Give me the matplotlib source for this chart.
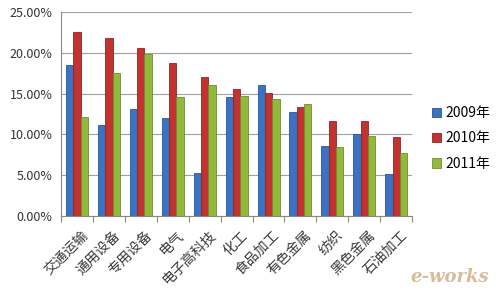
import matplotlib.pyplot as plt
import numpy as np

plt.rcParams['font.family'] = ['Noto Sans CJK SC', 'DejaVu Sans']

categories = ["交通运输", "通用设备", "专用设备", "电气", "电子高科技", "化工",
              "食品加工", "有色金属", "纺织", "黑色金属", "石油加工"]
v2009 = [18.5, 11.1, 13.1, 12.0, 5.3, 14.6, 16.0, 12.8, 8.6, 10.0, 5.2]
v2010 = [22.5, 21.8, 20.6, 18.8, 17.0, 15.6, 15.1, 13.3, 11.7, 11.7, 9.7]
v2011 = [12.1, 17.5, 19.9, 14.6, 16.0, 14.7, 14.3, 13.7, 8.4, 9.8, 7.7]
series_names = ["2009年", "2010年", "2011年"]
colors = ["#3c72c4", "#c23330", "#92b83d"]
edges = ["#2a5597", "#932221", "#6e8f28"]

fig = plt.figure(figsize=(4.96, 2.98), dpi=100)
ax = fig.add_axes([0.123, 0.275, 0.708, 0.685])

x = np.arange(len(categories))
w = 0.23
for i, vals in enumerate([v2009, v2010, v2011]):
    ax.bar(x + (i - 1) * w, vals, w, color=colors[i], edgecolor=edges[i],
           linewidth=0.6, label=series_names[i], zorder=3)

ax.set_xlim(-0.5, len(categories) - 0.5)
ax.set_ylim(0, 25)
ax.set_yticks(np.arange(0, 26, 5))
ax.set_yticklabels(["%.2f%%" % v for v in np.arange(0, 26, 5)], fontsize=9, color="#333333")
ax.yaxis.grid(True, color="#a0a0a0", linewidth=0.8, zorder=0)
ax.tick_params(axis="y", length=0, pad=6)

# category boundary ticks
ax.set_xticks(np.arange(-0.5, len(categories), 1))
ax.set_xticklabels([])
ax.tick_params(axis="x", length=4, color="#888888", direction="out")
ax.set_xticks(x + 0.12, minor=True)
ax.set_xticklabels(categories, minor=True, rotation=45, ha="right",
                   rotation_mode="anchor", fontsize=10, color="#3a3a3a")
ax.tick_params(axis="x", which="minor", length=0, pad=9)

for s in ["top", "right"]:
    ax.spines[s].set_visible(False)
ax.spines["left"].set_color("#888888")
ax.spines["bottom"].set_color("#888888")

ax.legend(loc="center left", bbox_to_anchor=(1.02, 0.38), frameon=False,
          fontsize=10, handlelength=0.7, handleheight=0.7, handletextpad=0.3,
          labelspacing=0.8)

fig.text(0.985, 0.07, "e-works", ha="right", va="center", fontsize=13,
         style="italic", fontweight="bold", color="#c7a070", alpha=0.7,
         family="DejaVu Serif")

fig.savefig("out.png", dpi=100, facecolor="white")
